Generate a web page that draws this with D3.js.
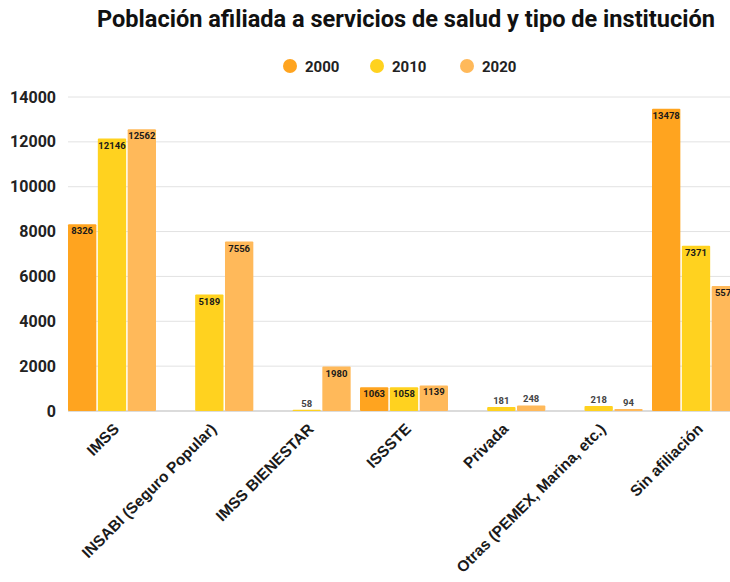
<!DOCTYPE html>
<html>
<head>
<meta charset="utf-8">
<script src="https://cdn.jsdelivr.net/npm/d3@7"></script>
<style>
  html, body { margin: 0; padding: 0; background: #fff; overflow: hidden; }
  svg { display: block; font-family: Roboto, "Noto Sans", sans-serif; }
</style>
</head>
<body>
<div id="chart"></div>
<script>
const categories = ['IMSS', 'INSABI (Seguro Popular)', 'IMSS BIENESTAR', 'ISSSTE', 'Privada', 'Otras (PEMEX, Marina, etc.)', 'Sin afiliación'];
const years = ['2000', '2010', '2020'];
const values2000 = [8326, null, null, 1063, null, null, 13478];
const values2010 = [12146, 5189, 58, 1058, 181, 218, 7371];
const values2020 = [12562, 7556, 1980, 1139, 248, 94, 5571];
const yTicks = [0, 2000, 4000, 6000, 8000, 10000, 12000, 14000];
const colors = ['#ffa41f', '#ffd21f', '#ffb95a'];

const width = 730, height = 582;
const margin = { top: 97, right: -10, bottom: 171, left: 68 };

const series = [values2000, values2010, values2020];
const rows = [];
categories.forEach((c, i) => {
    series.forEach((s, j) => {
        if (s[i] != null) rows.push({ cat: c, year: years[j], value: s[i], idx: j });
    });
});

const svg = d3.select('#chart')
    .append('svg')
    .attr('width', width)
    .attr('height', height);

const x = d3.scaleBand()
    .domain(categories)
    .range([margin.left, width - margin.right])
    .paddingInner(0.096)
    .paddingOuter(0);

const xInner = d3.scaleBand()
    .domain(years)
    .range([0, x.bandwidth()])
    .paddingInner(0.05);

const y = d3.scaleLinear()
    .domain([0, 14000])
    .range([height - margin.bottom, margin.top]);

// gridlines
svg.append('g')
    .selectAll('line')
    .data(yTicks)
    .enter()
    .append('line')
    .attr('x1', margin.left)
    .attr('x2', width)
    .attr('y1', d => y(d))
    .attr('y2', d => y(d))
    .attr('stroke', d => d === 0 ? '#cfcfcf' : '#e2e2e2')
    .attr('stroke-width', d => d === 0 ? 1.5 : 1);

// y axis labels
const yAxis = svg.append('g')
    .attr('transform', `translate(${margin.left - 12},0)`)
    .call(d3.axisLeft(y).tickValues(yTicks).tickSize(0).tickPadding(0).tickFormat(d3.format('d')));
yAxis.select('.domain').remove();
yAxis.selectAll('text')
    .attr('font-family', 'Roboto, sans-serif')
    .attr('font-size', '16px')
    .attr('font-weight', 'bold')
    .attr('fill', '#222');

// bars
svg.append('g')
    .selectAll('rect')
    .data(rows)
    .enter()
    .append('rect')
    .attr('x', d => x(d.cat) + xInner(d.year))
    .attr('y', d => y(d.value))
    .attr('width', xInner.bandwidth())
    .attr('height', d => y(0) - y(d.value))
    .attr('rx', 1)
    .attr('fill', d => colors[d.idx]);

// value labels: inside the top of tall bars, above short ones
svg.append('g')
    .selectAll('text')
    .data(rows)
    .enter()
    .append('text')
    .attr('x', d => x(d.cat) + xInner(d.year) + xInner.bandwidth() / 2)
    .attr('y', d => (y(0) - y(d.value)) > 18 ? y(d.value) + 10 : y(d.value) - 3)
    .attr('text-anchor', 'middle')
    .attr('font-size', '9.5px')
    .attr('font-weight', 'bold')
    .attr('fill', d => (y(0) - y(d.value)) > 18 ? '#1a1a1a' : '#444')
    .text(d => d.value);

// x labels
svg.append('g')
    .selectAll('text')
    .data(categories)
    .enter()
    .append('text')
    .attr('transform', d => `translate(${x(d) + x.bandwidth() / 2 + 8},${y(0) + 19}) rotate(-45)`)
    .attr('text-anchor', 'end')
    .attr('font-family', '"Liberation Sans", Arial, sans-serif')
    .attr('font-size', '15.5px')
    .attr('font-weight', 'bold')
    .attr('fill', '#1a1a1a')
    .text(d => d);

// title
svg.append('text')
    .attr('x', 406)
    .attr('y', 27)
    .attr('text-anchor', 'middle')
    .attr('font-size', '24px')
    .attr('font-weight', 'bold')
    .attr('fill', '#111')
    .attr('textLength', 618)
    .attr('lengthAdjust', 'spacingAndGlyphs')
    .text('Población afiliada a servicios de salud y tipo de institución');

// legend
const legendX = [290, 377, 467];
const legend = svg.append('g')
    .selectAll('g')
    .data(years)
    .enter()
    .append('g')
    .attr('transform', (d, i) => `translate(${legendX[i]},66)`);

legend.append('circle')
    .attr('r', 7)
    .attr('fill', (d, i) => colors[i]);

legend.append('text')
    .attr('x', 15)
    .attr('y', 5.5)
    .attr('font-size', '15px')
    .attr('font-weight', 'bold')
    .attr('fill', '#222')
    .text(d => d);
</script>
</body>
</html>
